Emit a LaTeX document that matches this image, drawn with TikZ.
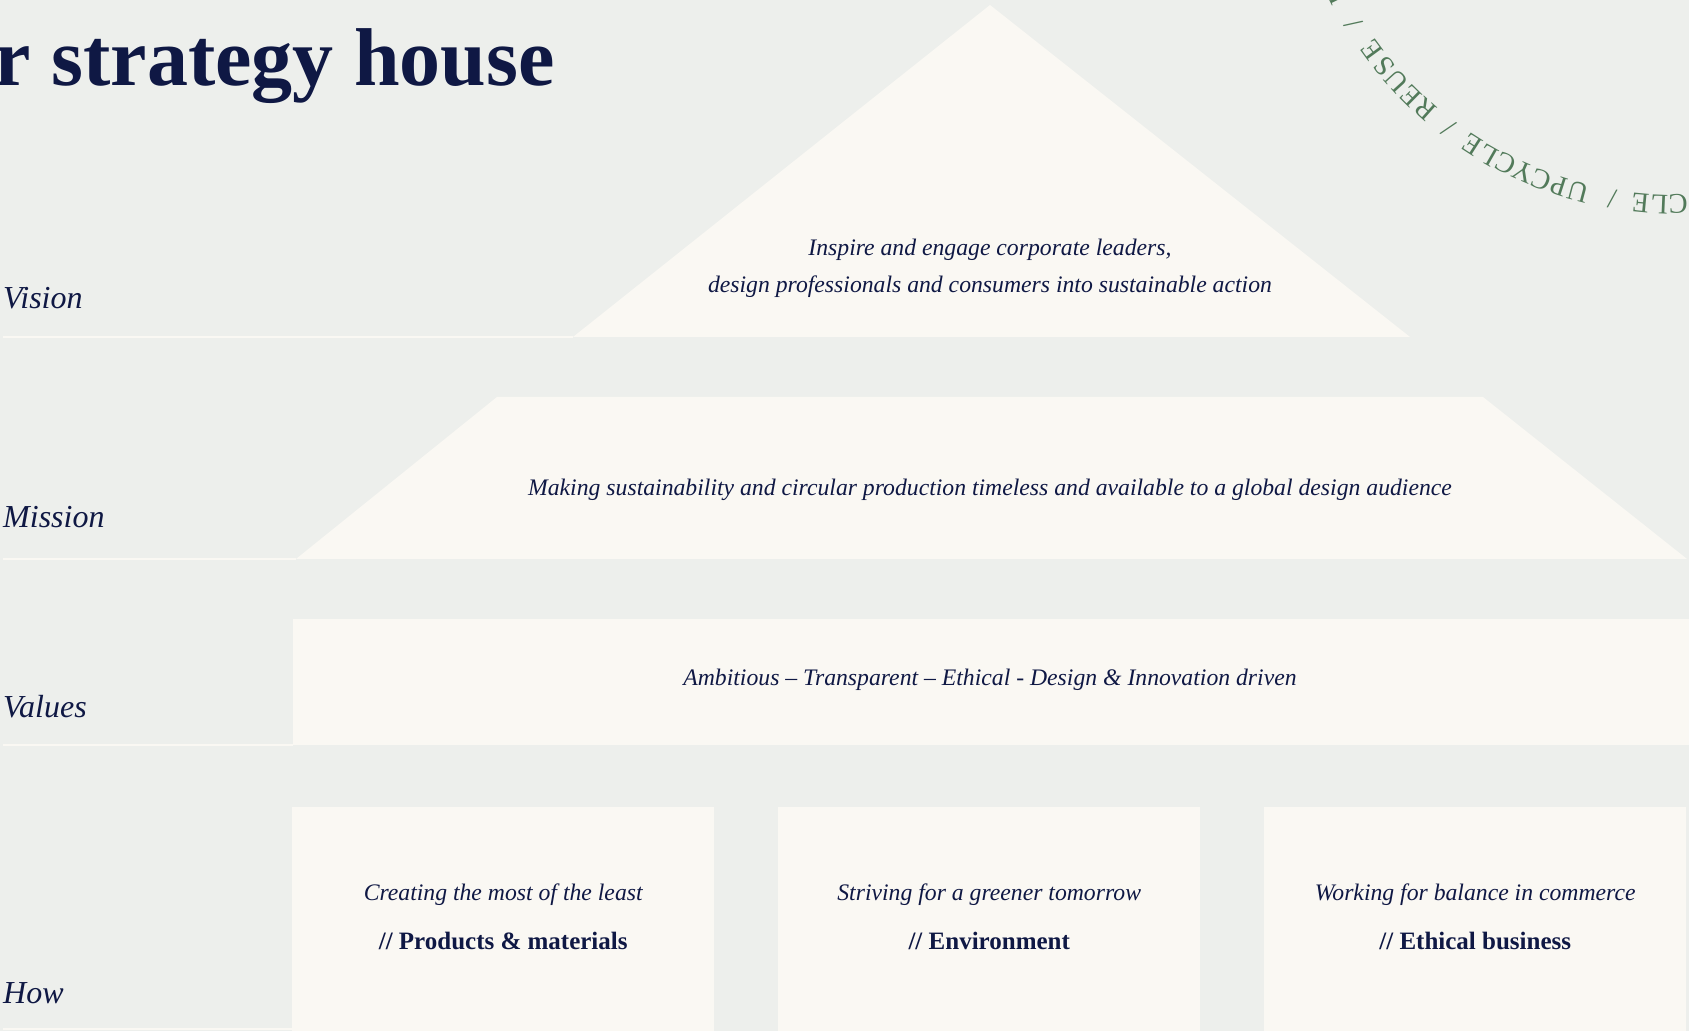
\documentclass[tikz,border=0pt]{standalone}
\usepackage{fontspec}
\setmainfont{Liberation Serif}

\definecolor{paper}{RGB}{237,239,236}
\definecolor{cream}{RGB}{250,248,243}
\definecolor{ink}{RGB}{15,24,68}
\definecolor{leaf}{RGB}{82,122,90}

\def\arcsl{/}

\tikzset{
	block/.style={fill=cream, draw=none, inner sep=0pt, anchor=south west},
	rule/.style={draw=cream, line width=2pt},
	rowname/.style={anchor=base west, inner sep=0pt, text=ink, font=\fontsize{32}{32}\selectfont\itshape},
	blurb/.style={anchor=base, inner sep=0pt, text=ink, font=\fontsize{23.7}{23.7}\selectfont\itshape},
	topic/.style={anchor=base, inner sep=0pt, text=ink, font=\fontsize{25}{25}\selectfont\bfseries},
	arcletter/.style={anchor=base, inner sep=0pt, text=leaf, font=\fontsize{28.5}{28.5}\selectfont}
}

\begin{document}
\begin{tikzpicture}[x=1pt, y=1pt]
	\def \W {1689}
	\def \H {1031}
	
	\fill[paper] (0,0) rectangle (\W,\H);
	\useasboundingbox (0,0) rectangle (\W,\H);
	\clip (0,0) rectangle (\W,\H);
	
	% roof
	\coordinate (roofL) at (573,694);
	\coordinate (roofT) at (990,1026);
	\coordinate (roofR) at (1410,694);
	\fill[cream] (roofL) -- (roofT) -- (roofR) -- cycle;
	
	% mission band
	\coordinate (bandBL) at (296,472);
	\coordinate (bandTL) at (497,634);
	\coordinate (bandTR) at (1483,634);
	\coordinate (bandBR) at (1687,472);
	\fill[cream] (bandBL) -- (bandTL) -- (bandTR) -- (bandBR) -- cycle;
	
	% values bar and the three pillars
	\node[block, minimum width=1396pt, minimum height=126pt] (values) at (293,286) { };
	\foreach \i in {0,1,2}
	{
		\node[block, minimum width=422pt, minimum height=224pt] (how\i) at (292+486*\i,0) { };
	}
	
	% rules under the row names
	\coordinate (visionL) at (3,694);
	\coordinate (missionL) at (3,472);
	\coordinate (valuesL) at (3,286);
	\coordinate (howL) at (3,2);
	\path[rule] (visionL) -- (roofL);
	\path[rule] (missionL) -- (bandBL);
	\path[rule] (valuesL) -- (valuesL -| values.west);
	\path[rule] (howL) -- (howL -| how0.west);
	
	\node[anchor=base east, inner sep=0pt, text=ink, font=\fontsize{82}{82}\selectfont\bfseries] (title) at (555,945) {r strategy house};
	
	\node[rowname] (vision) at (3,722) {Vision};
	\node[rowname] (mission) at (3,503) {Mission};
	\node[rowname] (valuesname) at (3,313) {Values};
	\node[rowname] (how) at (3,28) {How};
	
	\node[blurb] (visionA) at (990,775) {Inspire and engage corporate leaders,};
	\node[blurb] (visionB) at (990,738) {design professionals and consumers into sustainable action};
	\node[blurb] (missiontext) at (990,535) {Making sustainability and circular production timeless and available to a global design audience};
	\node[blurb] (valuestext) at (990,345) {Ambitious -- Transparent -- Ethical - Design \& Innovation driven};
	
	\node[blurb] (howA0) at ([yshift=130.5pt]how0.south) {Creating the most of the least};
	\node[topic] (howB0) at ([yshift=82pt]how0.south) {// Products \& materials};
	\node[blurb] (howA1) at ([yshift=130.5pt]how1.south) {Striving for a greener tomorrow};
	\node[topic] (howB1) at ([yshift=82pt]how1.south) {// Environment};
	\node[blurb] (howA2) at ([yshift=130.5pt]how2.south) {Working for balance in commerce};
	\node[topic] (howB2) at ([yshift=82pt]how2.south) {// Ethical business};
	
	% lettering round the badge
	\coordinate (hub) at (1675,1203);
	\foreach \ch/\ang [count=\k] in {C/270.5, L/267.6, E/264.7, \arcsl/260.4, U/255.1, P/252.1, C/249.2, Y/246.2, C/243.2, L/240.3, E/237.3, \arcsl/233.1, R/228.4, E/225.4, U/222.3, S/219.3, E/216.2, \arcsl/211.4, R/206.2}
	{
		\node[arcletter, rotate={\ang-90}] (arc\k) at ([shift={(\ang:367)}]hub) {\ch};
	}
\end{tikzpicture}
\end{document}
